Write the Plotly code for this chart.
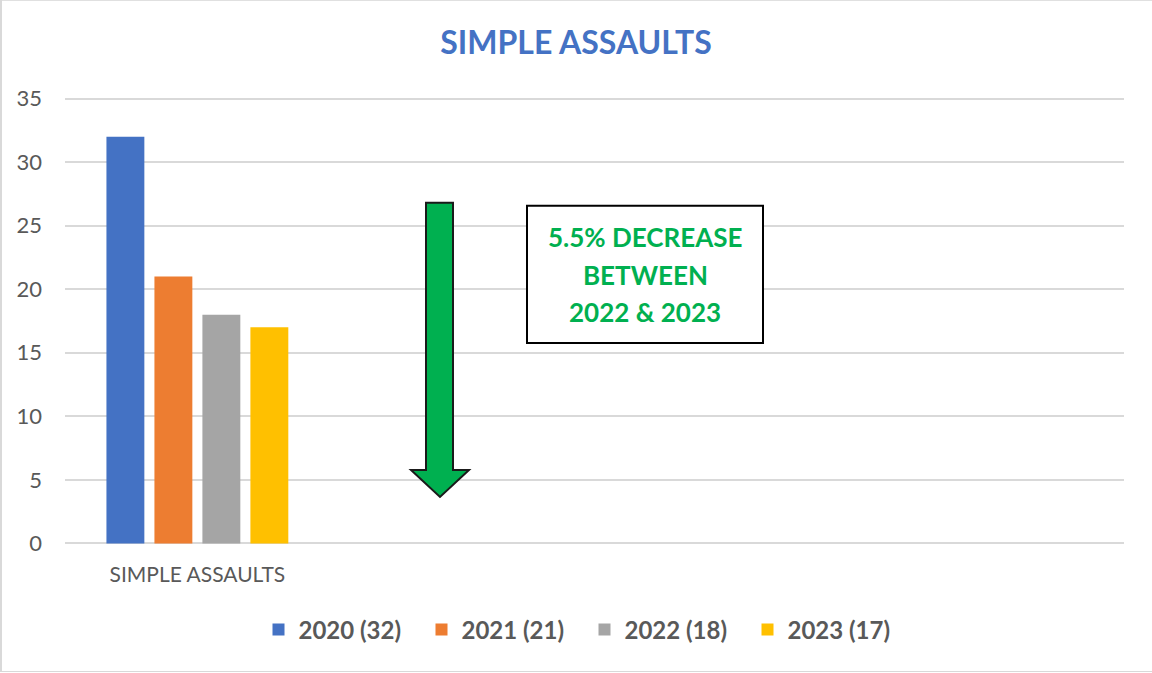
import plotly.graph_objects as go

category = ["SIMPLE ASSAULTS"]
series_names = ["2020 (32)", "2021 (21)", "2022 (18)", "2023 (17)"]
series_values = [32, 21, 18, 17]
colors = ["#4472C4", "#ED7D31", "#A5A5A5", "#FFC000"]
y_ticks = [0, 5, 10, 15, 20, 25, 30, 35]
note_lines = ["5.5% DECREASE", "BETWEEN", "2022 & 2023"]

FONT = "Lato, 'Open Sans', sans-serif"

fig = go.Figure()
for name, val, col in zip(series_names, series_values, colors):
    fig.add_trace(go.Bar(x=[0], y=[val], name=name, marker_color=col,
                         marker_line_width=0))

W, H = 1152, 673
L, R, T, B = 65, 1124, 98.7, 543.5
pw, ph = R - L, B - T
EXT = 0.2  # small range padding so edge gridlines render
epx = EXT * ph / 35.0
T2, B2 = T - epx, B + epx
ph2 = B2 - T2

def px(x):
    return (x - L) / pw

def py(y):
    return (B2 - y) / ph2

shapes = []
# arrow
pts = [(426, 203), (453, 203), (453, 470), (469, 470), (440, 497), (411, 470), (426, 470)]
path = "M " + " L ".join(f"{px(x):.5f},{py(y):.5f}" for x, y in pts) + " Z"
shapes.append(dict(type="path", xref="paper", yref="paper", path=path,
                   fillcolor="#00B050", line=dict(color="#1a1a1a", width=2)))
# text box
shapes.append(dict(type="rect", xref="paper", yref="paper",
                   x0=px(527), x1=px(763), y0=py(206), y1=py(343),
                   fillcolor="white", line=dict(color="black", width=2)))
# outer border lines
shapes.append(dict(type="line", xref="paper", yref="paper",
                   x0=px(1), x1=px(1), y0=py(0), y1=py(672),
                   line=dict(color="#D9D9D9", width=2)))
shapes.append(dict(type="line", xref="paper", yref="paper",
                   x0=px(0), x1=px(1152), y0=py(0.5), y1=py(0.5),
                   line=dict(color="#D9D9D9", width=1)))
shapes.append(dict(type="line", xref="paper", yref="paper",
                   x0=px(0), x1=px(1152), y0=py(671.5), y1=py(671.5),
                   line=dict(color="#D9D9D9", width=1)))

annotations = []
for line_text, yy in zip(note_lines, [237, 275, 312]):
    annotations.append(dict(xref="paper", yref="paper", x=px(645), y=py(yy),
                            text=line_text, showarrow=False, xanchor="center",
                            yanchor="middle",
                            font=dict(family=FONT, size=26, color="#00B050", weight="bold")))

fig.update_layout(
    width=W, height=H,
    margin=dict(l=L, r=W - R, t=T2, b=H - B2, pad=0),
    paper_bgcolor="white", plot_bgcolor="white",
    barmode="group", bargap=0.275, bargroupgap=0.21,
    title=dict(text="<b>SIMPLE ASSAULTS</b>", x=0.5, xanchor="center",
               y=1 - 43 / H, yanchor="middle",
               font=dict(family=FONT, size=32, color="#4472C4")),
    xaxis=dict(range=[-0.5, 3.5], tickvals=[0], ticktext=category,
               showgrid=False, zeroline=False, showline=False, ticks="",
               tickfont=dict(family=FONT, size=21, color="#595959"),
               ticklabelstandoff=14, fixedrange=True),
    yaxis=dict(range=[-EXT, 35 + EXT], tickvals=y_ticks, showgrid=True,
               gridcolor="#D9D9D9", gridwidth=1.5, zeroline=False, showline=False,
               tickfont=dict(family=FONT, size=22, color="#595959"),
               ticklabelstandoff=22),
    legend=dict(orientation="h", x=0.5 - 10 / pw, xanchor="center", y=py(630),
                yanchor="middle", font=dict(family=FONT, size=24, color="#595959", weight="bold"),
                itemwidth=30, entrywidth=118, tracegroupgap=0, traceorder="normal"),
    shapes=shapes,
    annotations=annotations,
    showlegend=True,
)

fig.write_html("out.html", config={"displayModeBar": False},
               post_script="document.body.style.margin='0';document.body.style.padding='0';")
